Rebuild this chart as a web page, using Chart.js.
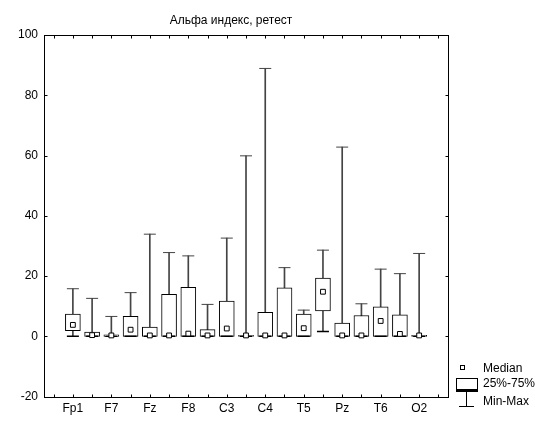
<!DOCTYPE html>
<html>
<head>
<meta charset="utf-8">
<script src="https://cdn.jsdelivr.net/npm/chart.js@4"></script>
<style>
  html, body { margin: 0; background: #fff; }
</style>
</head>
<body>
<canvas id="boxChart" width="535" height="421"></canvas>
<script>
const chartTitle = "Альфа индекс, ретест";
const electrodes = ["Fp1", "Fp2", "F7", "F3", "Fz", "F4", "F8", "T3", "C3", "Cz", "C4", "T4", "T5", "P3", "Pz", "P4", "T6", "O1", "O2"];
const minVals = [0, 0, 0, 0, 0, 0, 0, 0, 0, 0, 0, 0, 0, 1.6, 0, 0, 0, 0, 0];
const maxVals = [15.8, 12.6, 6.6, 14.5, 33.9, 27.8, 26.7, 10.6, 32.6, 59.9, 88.9, 22.8, 8.7, 28.6, 62.8, 10.8, 22.3, 20.8, 27.5];
const q25 = [1.9, 0, 0, 0, 0, 0, 0, 0, 0, 0, 0, 0, 0, 8.4, 0, 0, 0, 0, 0];
const q75 = [7.4, 1.4, 0.5, 6.6, 3.1, 13.9, 16.3, 2.2, 11.7, 0.3, 8.0, 16.1, 7.4, 19.3, 4.4, 6.9, 9.8, 7.1, 0.3];
const medians = [3.8, 0.4, 0.3, 2.2, 0.3, 0.3, 0.9, 0.3, 2.6, 0.3, 0.3, 0.3, 2.7, 14.8, 0.3, 0.3, 5.1, 0.8, 0.3];
const yMin = -20, yMax = 100, yStep = 20;
const legendLabels = ["Median", "25%-75%", "Min-Max"];

const FONT = "'Liberation Sans', Arial, sans-serif";
const WHISKER = "#444";

// empty slot at each end, like the original axis
const labels = ["", ...electrodes, ""];
const pad = arr => [null, ...arr, null];

// frame, inward tick marks, title and legend
const decor = {
  id: "decor",
  afterDraw(chart) {
    const { ctx, chartArea: a, scales } = chart;
    const L = Math.round(a.left) + 0.5, R = Math.round(a.right) + 0.5;
    const T = Math.round(a.top) + 0.5, B = Math.round(a.bottom) + 0.5;
    ctx.save();
    ctx.strokeStyle = "#000";
    ctx.lineWidth = 1;
    ctx.strokeRect(L, T, R - L, B - T);

    ctx.beginPath();
    scales.x.ticks.forEach((t, i) => {
      const px = Math.round(scales.x.getPixelForTick(i)) + 0.5;
      ctx.moveTo(px, B); ctx.lineTo(px, B - 3);
      ctx.moveTo(px, T); ctx.lineTo(px, T + 3);
    });
    scales.y.ticks.forEach((t, i) => {
      const py = Math.round(scales.y.getPixelForTick(i)) + 0.5;
      ctx.moveTo(L, py); ctx.lineTo(L + 3, py);
      ctx.moveTo(R, py); ctx.lineTo(R - 3, py);
    });
    ctx.stroke();

    // title
    ctx.fillStyle = "#000";
    ctx.font = "12px " + FONT;
    ctx.textAlign = "center";
    ctx.textBaseline = "middle";
    ctx.fillText(chartTitle, (a.left + a.right) / 2 - 15, 21);

    // legend
    const lx = Math.round(a.right) + 8;
    ctx.font = "12px " + FONT;
    ctx.textAlign = "left";
    ctx.fillText(legendLabels[0], lx + 27, 369);
    ctx.fillText(legendLabels[1], lx + 27, 384);
    ctx.fillText(legendLabels[2], lx + 27, 402);

    ctx.fillStyle = "#fff";
    ctx.fillRect(lx + 4.5, 365.5, 4, 4);
    ctx.strokeRect(lx + 4.5, 365.5, 4, 4);
    ctx.fillRect(lx + 0.5, 378.5, 21, 11);
    ctx.strokeRect(lx + 0.5, 378.5, 21, 11);
    ctx.beginPath();
    ctx.lineWidth = 2;
    ctx.moveTo(lx, 391); ctx.lineTo(lx + 22, 391);
    ctx.stroke();
    ctx.beginPath();
    ctx.lineWidth = 1;
    ctx.moveTo(lx + 10.5, 392); ctx.lineTo(lx + 10.5, 406);
    ctx.moveTo(lx + 3, 406.5); ctx.lineTo(lx + 18, 406.5);
    ctx.stroke();
    ctx.restore();
  }
};

new Chart(document.getElementById("boxChart"), {
  type: "bar",
  data: {
    labels: labels,
    datasets: [
      {
        label: "Median",
        type: "line",
        data: pad(medians),
        showLine: false,
        pointStyle: "rect",
        pointRadius: 3.4,
        pointBackgroundColor: "#fff",
        pointBorderColor: "#000",
        pointBorderWidth: 1,
        order: 0,
      },
      {
        label: "25%-75%",
        data: pad(electrodes.map((_, i) => [q25[i], q75[i]])),
        backgroundColor: "#fff",
        borderColor: "#000",
        borderWidth: 1,
        borderSkipped: false,
        barThickness: 15,
        grouped: false,
        order: 2,
      },
      {
        label: "Max",
        type: "line",
        data: pad(maxVals),
        showLine: false,
        pointStyle: "line",
        pointRadius: 6,
        pointBorderColor: WHISKER,
        pointBorderWidth: 1,
        order: 1,
      },
      {
        label: "Min",
        type: "line",
        data: pad(minVals),
        showLine: false,
        pointStyle: "line",
        pointRadius: 6,
        pointBorderColor: "#000",
        pointBorderWidth: 1.5,
        order: 1,
      },
      {
        label: "Min-Max",
        data: pad(electrodes.map((_, i) => [minVals[i], maxVals[i]])),
        backgroundColor: WHISKER,
        borderWidth: 0,
        barThickness: 1,
        grouped: false,
        order: 3,
      },
    ],
  },
  options: {
    responsive: false,
    animation: false,
    layout: { padding: { left: 12, top: 35, right: 87, bottom: 0 } },
    plugins: {
      legend: { display: false },
      title: { display: false },
      tooltip: { enabled: false },
    },
    scales: {
      x: {
        offset: true,
        grid: { display: false, drawTicks: false },
        border: { display: false },
        ticks: {
          autoSkip: false,
          maxRotation: 0,
          padding: 5,
          color: "#000",
          font: { family: FONT, size: 12 },
          callback: (v, i) => (i % 2 === 1 ? labels[i] : ""),
        },
      },
      y: {
        min: yMin,
        max: yMax,
        grid: { display: false, drawTicks: false },
        border: { display: false },
        ticks: {
          stepSize: yStep,
          padding: 6,
          color: "#000",
          font: { family: FONT, size: 12 },
        },
      },
    },
  },
  plugins: [decor],
});
</script>
</body>
</html>
